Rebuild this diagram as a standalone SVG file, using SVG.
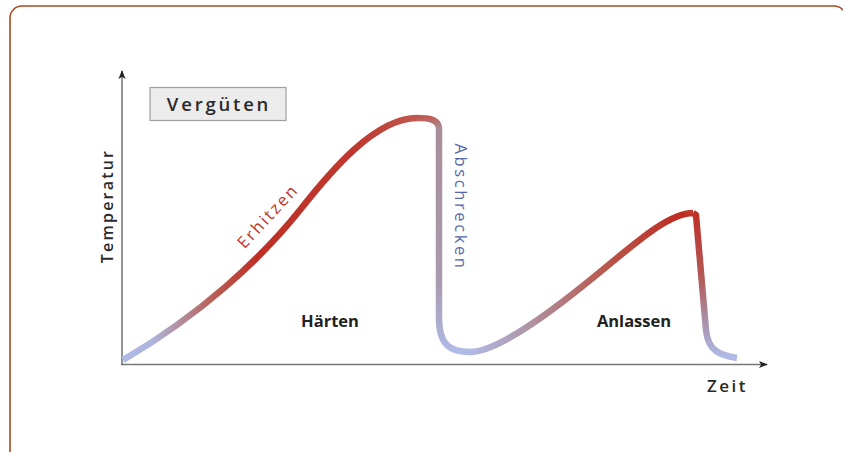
<svg xmlns="http://www.w3.org/2000/svg" width="843" height="452" viewBox="0 0 843 452">
<defs>
<style>
.frame{fill:none;stroke:#a8491f;stroke-width:1.6}
.axis{stroke:#777;stroke-width:1.6;fill:none}
.curve{fill:none;stroke-width:6.5;stroke-linecap:butt;stroke-linejoin:round}
.lbl{font-family:"Open Sans","DejaVu Sans",sans-serif;}
.phase{font-family:"Open Sans","DejaVu Sans",sans-serif;font-weight:700;font-size:16.5px;fill:#222;text-anchor:middle}
</style>
<marker id="arr" viewBox="0 0 10 10" refX="9" refY="5" markerWidth="9" markerHeight="9" markerUnits="userSpaceOnUse" orient="auto">
<path d="M0,1 L10,5 L0,9 L2.5,5 Z" fill="#222"/>
</marker>
<linearGradient id="g1" gradientUnits="userSpaceOnUse" x1="123" y1="0" x2="420" y2="0">
<stop offset="0" stop-color="#aeb9e6"/>
<stop offset="0.1" stop-color="#afb4dc"/>
<stop offset="0.3" stop-color="#b86058"/>
<stop offset="0.45" stop-color="#bf2f25"/>
<stop offset="0.8" stop-color="#bd3a30"/>
<stop offset="1" stop-color="#c05a50"/>
</linearGradient>
<linearGradient id="g2" gradientUnits="userSpaceOnUse" x1="417" y1="118" x2="440" y2="352">
<stop offset="0" stop-color="#c05a50"/>
<stop offset="0.05" stop-color="#a88e9a"/>
<stop offset="0.7" stop-color="#a99aae"/>
<stop offset="1" stop-color="#b0bae6"/>
</linearGradient>
<linearGradient id="g3" gradientUnits="userSpaceOnUse" x1="470" y1="0" x2="693" y2="0">
<stop offset="0" stop-color="#b0bae6"/>
<stop offset="0.25" stop-color="#ae96a8"/>
<stop offset="0.6" stop-color="#b8584e"/>
<stop offset="0.95" stop-color="#bf2a20"/>
<stop offset="1" stop-color="#bf3a30"/>
</linearGradient>
<linearGradient id="g4" gradientUnits="userSpaceOnUse" x1="0" y1="213" x2="0" y2="358">
<stop offset="0" stop-color="#bf3028"/>
<stop offset="0.45" stop-color="#b25a58"/>
<stop offset="0.8" stop-color="#a89ab8"/>
<stop offset="1" stop-color="#b0bce8"/>
</linearGradient>
</defs>
<rect class="frame" x="10" y="6" width="836" height="460" rx="12"/>

<g id="axes">
<line class="axis" x1="122" y1="365" x2="122" y2="71" marker-end="url(#arr)"/>
<line class="axis" x1="121" y1="364.5" x2="767" y2="364.5" marker-end="url(#arr)"/>
</g>

<g id="connectors">
<path class="curve" stroke="url(#g1)" d="M123,360 C200,315 260,260 300,210 C330,172 375,118 417,118"/>
<path class="curve" stroke="url(#g2)" d="M417,118 C428,118 438,119 439,128 L439,318 C439,345 450,352 470,352"/>
<path class="curve" stroke="url(#g3)" d="M470,352 C500,352 560,305 600,272 C640,239 670,213 693,213"/>
<path class="curve" stroke="url(#g4)" d="M693,213 L696,215 L706,330 C708,350 718,355 737,358"/>
</g>

<g id="title">
<rect x="150" y="87.5" width="136" height="33" fill="#ececec" stroke="#a0a0a0" stroke-width="1.2"/>
<text class="lbl" x="219" y="111" font-size="18.5" font-weight="600" fill="#2a2a2a" text-anchor="middle" letter-spacing="2.8">Vergüten</text>
</g>

<g id="ylabel">
<text class="lbl" transform="translate(113,206) rotate(-90)" font-size="16" font-weight="600" fill="#2a2a2a" text-anchor="middle" letter-spacing="2.2">Temperatur</text>
</g>
<g id="xlabel">
<text class="lbl" x="727.5" y="392" font-size="17" font-weight="600" fill="#2a2a2a" text-anchor="middle" letter-spacing="2.5">Zeit</text>
</g>
<g id="erhitzen">
<text class="lbl" transform="translate(272,220) rotate(-47)" font-size="16.5" fill="#bd3428" text-anchor="middle" letter-spacing="2.2">Erhitzen</text>
</g>
<g id="abschrecken">
<text class="lbl" transform="translate(455,207) rotate(90)" font-size="16.5" fill="#5566ad" text-anchor="middle" letter-spacing="2.6">Abschrecken</text>
</g>
<g id="haerten">
<text class="phase" x="330" y="327">Härten</text>
</g>
<g id="anlassen">
<text class="phase" x="634" y="327">Anlassen</text>
</g>
</svg>
